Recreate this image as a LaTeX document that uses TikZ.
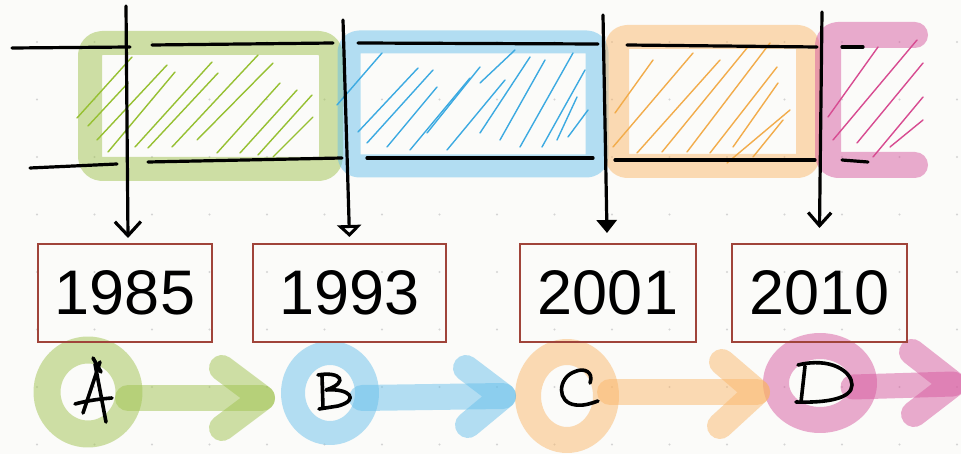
\documentclass[tikz,border=0pt]{standalone}
\usepackage{fontspec}
\setmainfont{Liberation Sans}
\usetikzlibrary{arrows.meta}

\definecolor{paper}{RGB}{251,251,249}
\definecolor{griddot}{RGB}{212,212,212}
\definecolor{hlgreen}{RGB}{160,195,80}
\definecolor{hlblue}{RGB}{100,190,235}
\definecolor{hlorange}{RGB}{250,180,100}
\definecolor{hlpink}{RGB}{215,90,160}
\definecolor{htgreen}{RGB}{150,192,50}
\definecolor{htblue}{RGB}{60,170,225}
\definecolor{htorange}{RGB}{242,172,75}
\definecolor{htpink}{RGB}{215,75,145}
\definecolor{boxred}{RGB}{160,68,58}

\newcommand{\hatchset}[2]{\foreach \xa/\ya/\xb/\yb in {#2} \draw[hatch,#1] (\xa,\ya) -- (\xb,\yb);}

\begin{document}
\begin{tikzpicture}[x=1pt,y=-1pt,
  hl/.style={line width=24pt, line cap=round, line join=round, opacity=0.5},
  ink/.style={line width=3.2pt, line cap=round, line join=round, draw=black},
  letter/.style={line width=3.6pt, line cap=round, line join=round, draw=black},
  hatch/.style={line width=1.4pt, line cap=round},
  yearbox/.style={draw=boxred, line width=2pt, inner sep=0pt, minimum height=98pt,
    font=\fontsize{63}{63}\selectfont},
  ring/.style={circle, inner sep=0pt, minimum size=80pt}]

% paper and dot grid
\fill[paper] (0,0) rectangle (961,454);
\useasboundingbox (0,0) rectangle (961,454);
\foreach \i in {0,...,16}
  \foreach \j in {0,...,7}
    \fill[griddot] (37+57.5*\i, 42+57.5*\j) circle (1.1);

% highlighter frames of the four periods
\draw[hl, draw=hlgreen, rounded corners=12] (90,43) rectangle (331,169);
\draw[hl, draw=hlblue, opacity=0.48, line width=23pt, rounded corners=10] (349,42) rectangle (597,166);
\draw[hl, draw=hlorange, opacity=0.47, rounded corners=10] (617,37) rectangle (808,166);
\draw[hl, draw=hlpink, line width=26pt, rounded corners=10] (915,35) -- (828,35) -- (828,165) -- (915,165);

% hatching
\hatchset{htgreen}{77/118/132/57, 88/126/128/83, 97/140/167/65, 108/152/175/72,
  135/147/212/62, 148/148/218/73, 172/147/258/55, 197/140/273/63, 217/153/280/83,
  240/153/297/90, 258/155/312/95, 273/157/313/117}
\hatchset{htblue}{337/105/382/53, 358/132/418/68, 367/143/433/70, 387/147/437/87,
  410/150/470/78, 427/133/480/67, 447/150/505/80, 480/83/515/50, 480/133/530/57,
  500/140/545/60, 520/147/573/53, 542/147/585/70, 557/140/577/97, 568/137/588/110}
\hatchset{htorange}{615/113/653/60, 613/147/693/53, 637/153/720/60, 662/152/747/48,
  687/152/770/43, 710/153/777/67, 733/147/778/83, 753/157/783/120, 727/163/790/110}
\hatchset{htpink}{828/117/878/47, 833/140/917/40, 857/143/923/63, 873/157/923/97,
  890/147/923/120}

% the two rails of the timeline, broken at each boundary
\draw[ink] (12,48) -- (130,47);
\draw[ink] (30,168) -- (117,164);
\draw[ink] (152,45) -- (333,43);
\draw[ink] (148,162) -- (342,158);
\draw[ink] (358,43) -- (598,44);
\draw[ink] (367,158) -- (593,158);
\draw[ink] (627,45) -- (817,47);
\draw[ink] (615,160) -- (815,160);
\draw[ink] (842,47) -- (863,47);
\draw[ink] (842,160) -- (868,162);

% stages A to D
\node[ring] (rA) at (88,392) {};
\node[ring] (rB) at (330,393) {};
\node[ring] (rC) at (567,396) {};
\node[ring] (rD) at (820,383) {};
\draw[hl, draw=hlgreen, line width=27pt] (rA) ellipse [x radius=41, y radius=42];
\draw[hl, draw=hlblue, opacity=0.48, line width=24pt] (rB) ellipse [x radius=37, y radius=40];
\draw[hl, draw=hlorange, opacity=0.47, line width=26pt] (rC) ellipse [x radius=39, y radius=44];
\draw[hl, draw=hlpink, line width=26pt] (rD) ellipse [x radius=44, y radius=37];

% thick arrows between the stages
\coordinate (sA) at (128,398); \coordinate (eA) at (262,398);
\coordinate (sB) at (362,398); \coordinate (eB) at (503,396);
\coordinate (sC) at (610,392); \coordinate (eC) at (757,392);
\coordinate (sD) at (853,387); \coordinate (eD) at (953,384);
\draw[hl, draw=hlgreen, line width=26pt] (sA) -- (eA);
\draw[hl, draw=hlgreen, line width=26pt] (222,368) -- (eA) -- (222,428);
\draw[hl, draw=hlblue, opacity=0.48, line width=26pt] (sB) -- (eB);
\draw[hl, draw=hlblue, opacity=0.48, line width=26pt] (466,368) -- (eB) -- (468,425);
\draw[hl, draw=hlorange, opacity=0.47, line width=26pt] (sC) -- (eC);
\draw[hl, draw=hlorange, opacity=0.47, line width=26pt] (722,362) -- (eC) -- (720,426);
\draw[hl, draw=hlpink, line width=25pt] (sD) -- (eD);
\draw[hl, draw=hlpink, line width=26pt] (912,352) -- (eD) -- (914,414);

% year labels
\node[yearbox, minimum width=174pt] (y85) at (125,293) {1985};
\node[yearbox, minimum width=193pt] (y93) at (349.5,293) {1993};
\node[yearbox, minimum width=176pt] (y01) at (608,293) {2001};
\node[yearbox, minimum width=175pt] (y10) at (819.5,293) {2010};

% boundary markers pointing down to the years
\coordinate (t1) at (126,6);
\coordinate (t2) at (343,20);
\coordinate (t3) at (603,15);
\coordinate (t4) at (822,12);
\draw[ink, -{Straight Barb[length=14pt,width=26pt]}] (t1) -- ([xshift=3pt,yshift=5pt]y85.north);
\draw[ink, -{Triangle[open,length=12pt,width=24pt]}] (t2) -- ([yshift=6pt]y93.north);
\draw[ink, -{Triangle[length=13pt,width=20pt]}] (t3) -- ([xshift=-1pt,yshift=10pt]y01.north);
\draw[ink, -{Straight Barb[length=13pt,width=23pt]}] (t4) -- ([yshift=15pt]y10.north);

% hand-written letters
\draw[letter] (100,362) -- (83,413);
\draw[letter] (95,364) -- (106,422);
\draw[letter] (93,358) -- (101,372);
\draw[letter] (75,404) .. controls (90,400) and (100,399) .. (112,398);

\draw[letter] (322,376) -- (323,408);
\draw[letter] (318,375) .. controls (340,371) and (350,382) .. (326,390)
  .. controls (350,388) and (360,400) .. (338,406) -- (319,409);

\draw[letter] (590,383) .. controls (594,372) and (584,367) .. (574,372)
  .. controls (558,378) and (556,403) .. (576,405) .. controls (585,406) and (592,403) .. (598,401);

\draw[letter] (805,366) -- (801,402);
\draw[letter] (798,365) .. controls (830,357) and (852,371) .. (852,385)
  .. controls (852,399) and (825,403) .. (796,402);
\end{tikzpicture}
\end{document}
